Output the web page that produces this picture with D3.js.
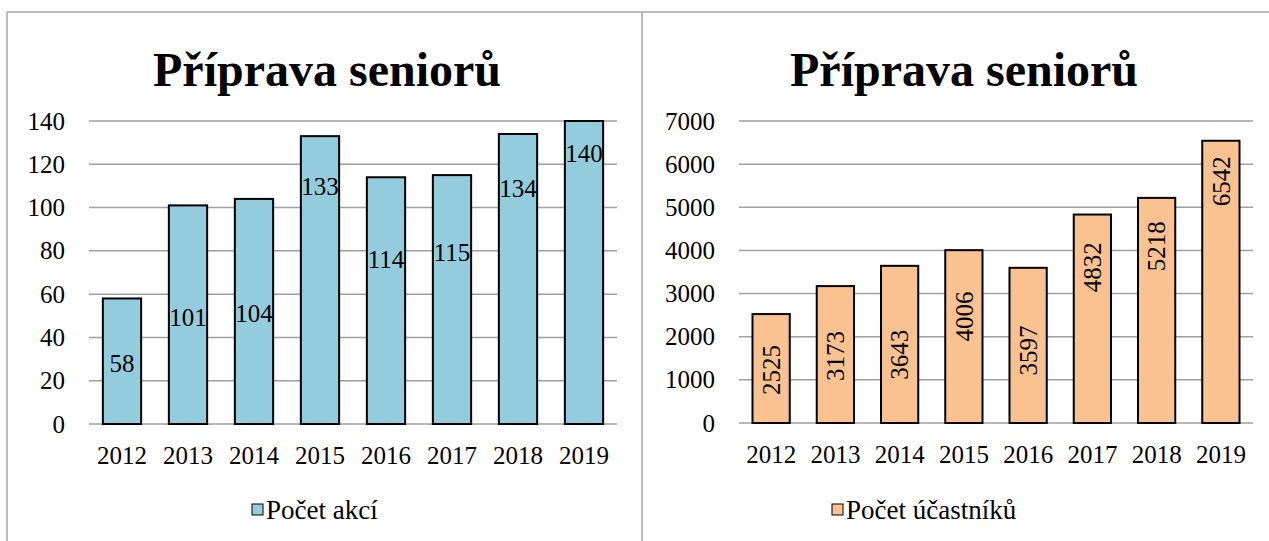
<!DOCTYPE html>
<html>
<head>
<meta charset="utf-8">
<script src="https://cdn.jsdelivr.net/npm/d3@7"></script>
<style>
  body { margin: 0; background: #fff; }
  svg { display: block; font-family: "Liberation Serif", "Times New Roman", serif; }
</style>
</head>
<body>
<svg id="chart" width="1269" height="541"></svg>
<script>
// data
const years = ["2012", "2013", "2014", "2015", "2016", "2017", "2018", "2019"];
const akce = [58, 101, 104, 133, 114, 115, 134, 140];
const ucastnici = [2525, 3173, 3643, 4006, 3597, 4832, 5218, 6542];
// where the data labels sit, in axis units (they were dragged by hand in the original)
const akceLabelAt = [28.2, 49.4, 51.3, 109.7, 76.2, 79.5, 109, 125.2];
const ucastniciLabelAt = [1227, 1551, 1581, 2470, 1683, 3611, 4097, 5602];
const akceTicks = [0, 20, 40, 60, 80, 100, 120, 140];
const ucastniciTicks = [0, 1000, 2000, 3000, 4000, 5000, 6000, 7000];

const svg = d3.select("#chart");

// panel borders
svg.append("g")
    .attr("stroke", "#a6a6a6")
    .attr("stroke-width", 1.5)
    .selectAll("line")
    .data([[7, 12, 1269, 12], [7, 12, 7, 541], [642, 12, 642, 541]])
    .join("line")
    .attr("x1", d => d[0]).attr("y1", d => d[1])
    .attr("x2", d => d[2]).attr("y2", d => d[3]);

function drawPanel(opts) {
    const g = svg.append("g");
    const x = d3.scaleBand().domain(years).range([opts.x0, opts.x1])
        .paddingInner(0.42).paddingOuter(0.21);
    const y = d3.scaleLinear().domain([0, opts.max]).range([opts.y0, opts.y1]);

    g.append("text")
        .attr("x", opts.titleX)
        .attr("y", 86)
        .attr("text-anchor", "middle")
        .attr("font-weight", "bold")
        .attr("font-size", 48)
        .text("Příprava seniorů");

    // gridlines
    g.append("g")
        .selectAll("line")
        .data(opts.ticks)
        .join("line")
        .attr("x1", opts.x0).attr("x2", opts.x1)
        .attr("y1", d => y(d)).attr("y2", d => y(d))
        .attr("stroke", "#a0a0a0")
        .attr("stroke-width", 1.5);

    const yAxis = g.append("g")
        .attr("transform", `translate(${opts.labelRight},0)`)
        .call(d3.axisLeft(y).tickValues(opts.ticks).tickFormat(d => d).tickSize(0).tickPadding(0))
        .attr("font-family", null)
        .attr("font-size", 25);
    yAxis.select(".domain").remove();
    yAxis.selectAll("text").attr("fill", "#000");

    const xAxis = g.append("g")
        .attr("transform", `translate(0,${opts.y0})`)
        .call(d3.axisBottom(x).tickSize(0).tickPadding(22))
        .attr("font-family", null)
        .attr("font-size", 25);
    xAxis.select(".domain").remove();
    xAxis.selectAll("text").attr("fill", "#000");

    g.append("g")
        .selectAll("rect")
        .data(opts.values)
        .join("rect")
        .attr("x", (d, i) => x(years[i]))
        .attr("y", d => y(d))
        .attr("width", x.bandwidth())
        .attr("height", d => opts.y0 - y(d))
        .attr("fill", opts.color)
        .attr("stroke", "#000")
        .attr("stroke-width", 2);

    g.append("g")
        .selectAll("text")
        .data(opts.values)
        .join("text")
        .attr("transform", (d, i) => {
            const cx = x(years[i]) + x.bandwidth() / 2;
            const cy = y(opts.labelAt[i]);
            return `translate(${cx},${cy})` + (opts.rotate ? " rotate(-90)" : "");
        })
        .attr("text-anchor", "middle")
        .attr("dy", "0.35em")
        .attr("font-size", 25)
        .text(d => d);

    // legend
    const lg = g.append("g").attr("transform", `translate(${opts.legendX},510)`);
    lg.append("rect")
        .attr("x", 0).attr("y", -6)
        .attr("width", 11).attr("height", 11)
        .attr("fill", opts.color)
        .attr("stroke", "#000")
        .attr("stroke-width", 1);
    lg.append("text")
        .attr("x", 14)
        .attr("dy", "0.35em")
        .attr("font-size", 27)
        .text(opts.legend);
}

drawPanel({
    x0: 89, x1: 617, y0: 424, y1: 121, max: 140,
    ticks: akceTicks, values: akce, labelAt: akceLabelAt,
    labelRight: 65, titleX: 327, color: "#93cddd",
    legend: "Počet akcí", legendX: 252, rotate: false
});

drawPanel({
    x0: 739, x1: 1253, y0: 423, y1: 121, max: 7000,
    ticks: ucastniciTicks, values: ucastnici, labelAt: ucastniciLabelAt,
    labelRight: 715, titleX: 964, color: "#fac191",
    legend: "Počet účastníků", legendX: 832, rotate: true
});
</script>
</body>
</html>
